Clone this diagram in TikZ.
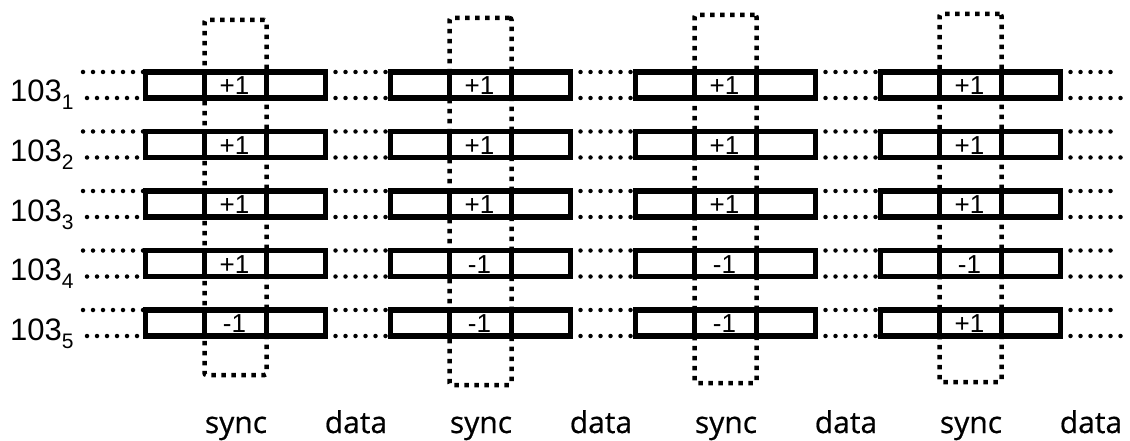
\documentclass[tikz,border=0pt]{standalone}
\usepackage{fontspec}
\setmainfont{Liberation Sans}
\newfontfamily\sdfont[FakeBold=0.6]{Open Sans}
\begin{document}
\begin{tikzpicture}[x=1pt,y=-1pt,
  cell/.style={draw, line width=5.5pt, fill=white, inner sep=0pt, outer sep=0pt, minimum width=180pt, minimum height=26pt},
  synccell/.style={draw, line width=5.5pt, inner sep=0pt, outer sep=0pt, minimum width=62pt, minimum height=26pt},
  val/.style={anchor=base, inner sep=0pt, font=\fontsize{26}{26}\selectfont},
  syncframe/.style={draw, line width=4.5pt, dash pattern=on 4.5pt off 5.5pt, rounded corners=2pt, inner sep=0pt, outer sep=0pt, minimum width=62pt},
  dotline/.style={line width=4.5pt, line cap=round, dash pattern=on 0pt off 10pt},
  rowlbl/.style={anchor=base west, inner sep=0pt, font=\fontsize{31}{31}\selectfont},
  axlbl/.style={anchor=base, inner sep=0pt, font=\sdfont\fontsize{30}{30}\selectfont}]
\useasboundingbox (0,0) rectangle (1130,441);
% sync frames
\foreach \j/\tp/\bt in {1/20/375, 2/18/385, 3/15/383, 4/14/382} {
  \pgfmathsetmacro\cx{235.5+245*(\j-1)}
  \node[syncframe, minimum height={\bt-\tp}] (f\j) at (\cx, {(\tp+\bt)/2}) {};
  \node[axlbl] (sy\j) at (\cx+0.5, 433) {sync};
  \node[axlbl] (da\j) at (\cx+120.5, 433) {data};
}
% rows
\foreach \i/\a/\b/\c/\d in {1/+1/+1/+1/+1, 2/+1/+1/+1/+1, 3/+1/+1/+1/+1, 4/+1/-1/-1/-1, 5/-1/-1/-1/+1} {
  \pgfmathsetmacro\cy{85+59.5*(\i-1)}
  \foreach \j/\v in {1/\a, 2/\b, 3/\c, 4/\d} {
    \pgfmathsetmacro\cx{235.5+245*(\j-1)}
    \node[cell] (b\i-\j) at (\cx,\cy) {};
    \node[synccell] (s\i-\j) at (\cx,\cy) {};
    \node[val] (v\i-\j) at (\cx-1,\cy+9.5) {\v};
  }
  \coordinate (lt\i) at (83,\cy-13);
  \coordinate (lb\i) at (87,\cy+13);
  \coordinate (rt\i) at (1118,\cy-13);
  \coordinate (rb\i) at (1125,\cy+13);
  \draw[dotline] (lt\i) -- (b\i-1.north west);
  \draw[dotline] (lb\i) -- (b\i-1.south west);
  \draw[dotline] (b\i-4.north east) -- (rt\i);
  \draw[dotline] (b\i-4.south east) -- (rb\i);
  \foreach \j/\k in {1/2, 2/3, 3/4} {
    \draw[dotline] (b\i-\j.north east) -- (b\i-\k.north west);
    \draw[dotline] (b\i-\j.south east) -- (b\i-\k.south west);
  }
  \node[rowlbl] (r\i) at (10,{102+59.5*(\i-1)}) {103\raisebox{-8pt}{\fontsize{21}{21}\selectfont\i}};
}
\end{tikzpicture}
\end{document}
